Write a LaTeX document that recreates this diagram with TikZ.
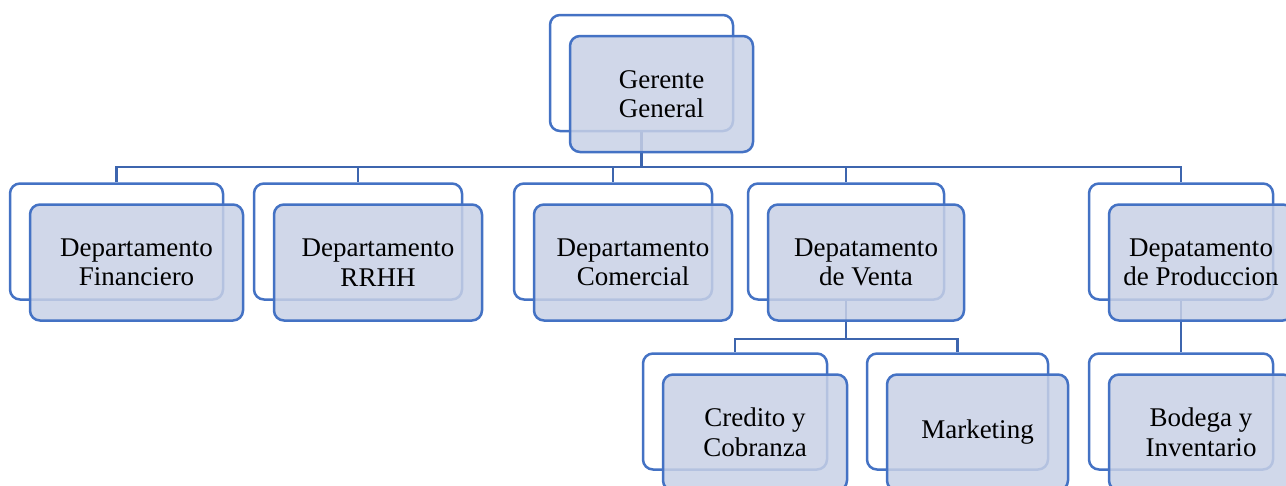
\documentclass[tikz,border=0pt]{standalone}
\usepackage{fontspec}
\setmainfont{Liberation Serif}
\usetikzlibrary{backgrounds, calc}

\definecolor{boxblue}{RGB}{68,114,196}
\definecolor{linkblue}{RGB}{61,101,174}
\definecolor{boxfill}{RGB}{200,209,230}

\begin{document}
\begin{tikzpicture}[
        x=1pt, y=-1pt,
        backbox/.style={draw=boxblue, line width=2.5pt, fill=white, rounded corners=10pt,
            minimum height=116pt, inner sep=0pt},
        frontbox/.style={backbox, fill=boxfill, fill opacity=0.85, text opacity=1,
            align=center, font=\fontsize{27}{29.5}\selectfont},
        link/.style={draw=linkblue, line width=2.2pt}
    ]
    \useasboundingbox (0,0) rectangle (1286,485);
    \clip (0,0) rectangle (1286,485);

    % Gerente
    \node[backbox, minimum width=183pt] (ggb) at (641.5,73) {};
    \node[frontbox, minimum width=183pt] (gg) at ($(ggb)+(20,21)$) {Gerente\\General};

    % Departamentos
    \node[backbox, minimum width=213pt] (finb) at (116.5,241.5) {};
    \node[frontbox, minimum width=213pt] (fin) at ($(finb)+(20,21)$) {Departamento\\Financiero};
    \node[backbox, minimum width=208pt] (rrhhb) at (358,241.5) {};
    \node[frontbox, minimum width=208pt] (rrhh) at ($(rrhhb)+(20,21)$) {Departamento\\RRHH};
    \node[backbox, minimum width=198pt] (comb) at (613,241.5) {};
    \node[frontbox, minimum width=198pt] (com) at ($(comb)+(20,21)$) {Departamento\\Comercial};
    \node[backbox, minimum width=196pt] (venb) at (846,241.5) {};
    \node[frontbox, minimum width=196pt] (ven) at ($(venb)+(20,21)$) {Depatamento\\de Venta};
    \node[backbox, minimum width=184pt] (prob) at (1181,241.5) {};
    \node[frontbox, minimum width=184pt] (pro) at ($(prob)+(20,21)$) {Depatamento\\de Produccion};

    % Secciones
    \node[backbox, minimum width=184pt] (creb) at (735,411.5) {};
    \node[frontbox, minimum width=184pt] (cre) at ($(creb)+(20,21)$) {Credito y\\Cobranza};
    \node[backbox, minimum width=181pt] (mktb) at (957.5,411.5) {};
    \node[frontbox, minimum width=181pt] (mkt) at ($(mktb)+(20,21)$) {Marketing};
    \node[backbox, minimum width=184pt] (bodb) at (1181,411.5) {};
    \node[frontbox, minimum width=184pt] (bod) at ($(bodb)+(20,21)$) {Bodega y\\Inventario};

    % Conectores
    \begin{scope}[on background layer]
        \foreach \dep in {finb, rrhhb, comb, venb, prob}
            \draw[link] (ggb.south) -- ++(0,35) -| (\dep.north);
        \foreach \sec in {creb, mktb}
            \draw[link] (venb.south) -- ++(0,38) -| (\sec.north);
        \draw[link] (prob.south) -- (bodb.north);
    \end{scope}
\end{tikzpicture}
\end{document}
